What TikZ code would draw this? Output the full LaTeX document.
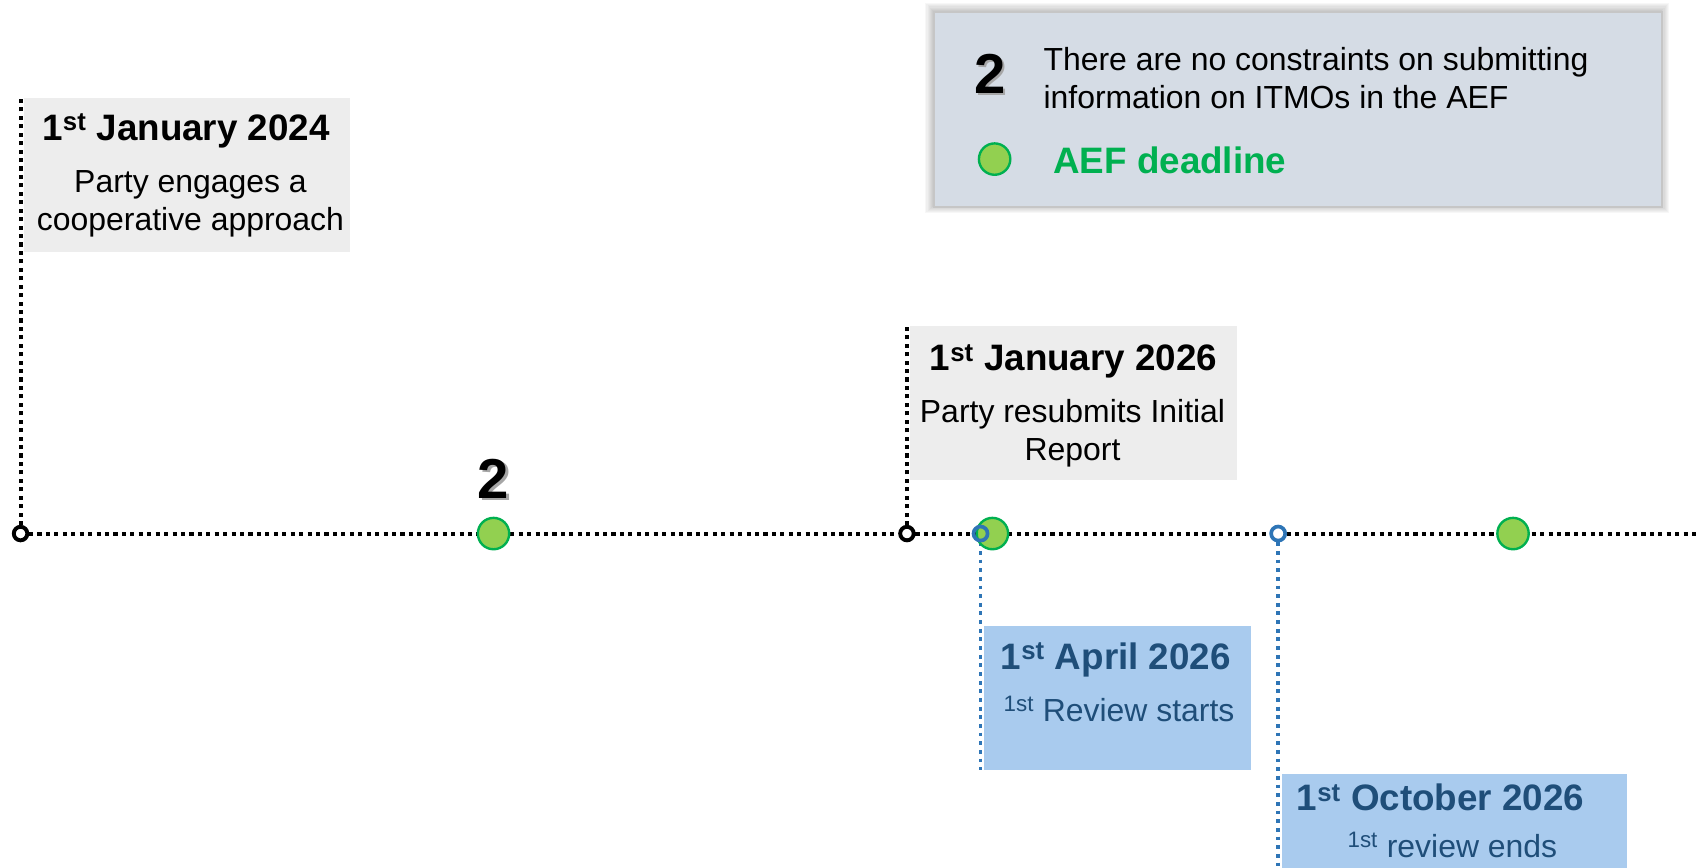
\documentclass[tikz,border=0pt]{standalone}
\usepackage{fontspec}
\setmainfont{Liberation Sans}
\usetikzlibrary{backgrounds}
\definecolor{boxgray}{HTML}{EDEDED}
\definecolor{boxblue}{HTML}{A9CBEE}
\definecolor{titleblue}{HTML}{1F4E79}
\definecolor{lineblue}{HTML}{2E75B6}
\definecolor{dotgreen}{HTML}{92D050}
\definecolor{linegreen}{HTML}{00B050}
\definecolor{legendfill}{HTML}{D5DCE5}
\tikzset{
  bodytext/.style={font=\fontsize{29.5}{35}\selectfont, align=center, inner sep=0pt},
  titletext/.style={font=\fontsize{34}{38}\selectfont\bfseries, inner sep=0pt},
  greybox/.style={fill=boxgray, inner sep=0pt, anchor=north west},
  bluebox/.style={fill=boxblue, inner sep=0pt, anchor=north west},
  greendot/.style={circle, fill=dotgreen, draw=linegreen, line width=2.2pt, minimum size=29pt, inner sep=0pt},
  blackdot/.style={circle, fill=white, draw=black, line width=3.6pt, minimum size=12.5pt, inner sep=0pt},
  bluedot/.style={circle, draw=lineblue, line width=3.4pt, minimum size=13pt, inner sep=0pt},
  tldot/.style={line width=3.8pt, dash pattern=on 3.8pt off 4pt, black},
  bluedash/.style={line width=3.5pt, dash pattern=on 3.5pt off 4.5pt, lineblue},
  bignum/.style={font=\fontsize{52}{56}\selectfont\bfseries, inner sep=0pt}
}
\begin{document}
\begin{tikzpicture}[x=1pt,y=-1pt]
\useasboundingbox (0,0) rectangle (1568,802);

% legend with soft shadow
\foreach \i in {1,...,7}{
  \fill[black, opacity=0.03] (862-\i,10-\i) rectangle (1535+\i,190+\i);
}
\node[fill=legendfill, draw=gray!45, line width=2pt, inner sep=0pt, anchor=north west,
      minimum width=673pt, minimum height=180pt] (legend) at (862,10) {};
\node[bignum, text=gray!70] (legtwoshadow) at (917,70) {2};
\node[bignum] (legtwo) at (915,68) {2};
\node[font=\fontsize{29.5}{35}\selectfont, align=left, inner sep=0pt, anchor=west] (legtext) at (964,72)
  {There are no constraints on submitting\\information on ITMOs in the AEF};
\node[greendot] (legdot) at (919,147) {};
\node[font=\fontsize{34}{38}\selectfont\bfseries, text=linegreen, inner sep=0pt, anchor=west] (legaef) at (973,148) {AEF deadline};

% boxes
\node[greybox, minimum width=301pt, minimum height=143pt] (box1) at (22,90) {};
\node[titletext] (t1) at (172,121) {1\textsuperscript{st} January 2024};
\node[bodytext] (b1) at (176,188) {Party engages a\\cooperative approach};

\node[greybox, minimum width=302pt, minimum height=142pt] (box2) at (841,301) {};
\node[titletext] (t2) at (992,334) {1\textsuperscript{st} January 2026};
\node[bodytext] (b2) at (991,400) {Party resubmits Initial\\Report};

\node[bluebox, minimum width=247pt, minimum height=133pt] (box3) at (909,578) {};
\node[titletext, text=titleblue] (t3) at (1031,610) {1\textsuperscript{st} April 2026};
\node[bodytext, text=titleblue] (b3) at (1034,655) {\textsuperscript{1st} Review starts};

\node[bluebox, minimum width=319pt, minimum height=90pt] (box4) at (1184,715) {};
\node[titletext, text=titleblue] (t4) at (1331,737) {1\textsuperscript{st} October 2026};
\node[bodytext, text=titleblue] (b4) at (1342,781) {\textsuperscript{1st} review ends};

% timeline markers
\node[blackdot] (c0) at (19,493) {};
\node[greendot] (g1) at (456,493) {};
\node[bignum, text=gray!70] (twoshadow) at (458,444) {2};
\node[bignum] (two) at (456,442) {2};
\node[blackdot] (c1) at (838,493) {};
\node[greendot] (g2) at (917,493) {};
\node[bluedot] (bl1) at (906,493) {};
\node[bluedot, fill=white] (bl2) at (1181,493) {};
\node[greendot] (g3) at (1398,493) {};

\coordinate (tlend) at (1568,493);
\coordinate (top0) at (19,88);
\coordinate (top1) at (838,300);
\coordinate (bot1) at (906,711);
\coordinate (bot2) at (1181,802);

\begin{scope}[on background layer]
  \draw[tldot] (c0.center) -- (tlend);
  \draw[tldot] (c0.center) -- (top0);
  \draw[tldot] (c1.center) -- (top1);
  \draw[bluedash] (bl1.center) -- (bot1);
  \draw[bluedash] (bl2.center) -- (bot2);
\end{scope}
\end{tikzpicture}
\end{document}
